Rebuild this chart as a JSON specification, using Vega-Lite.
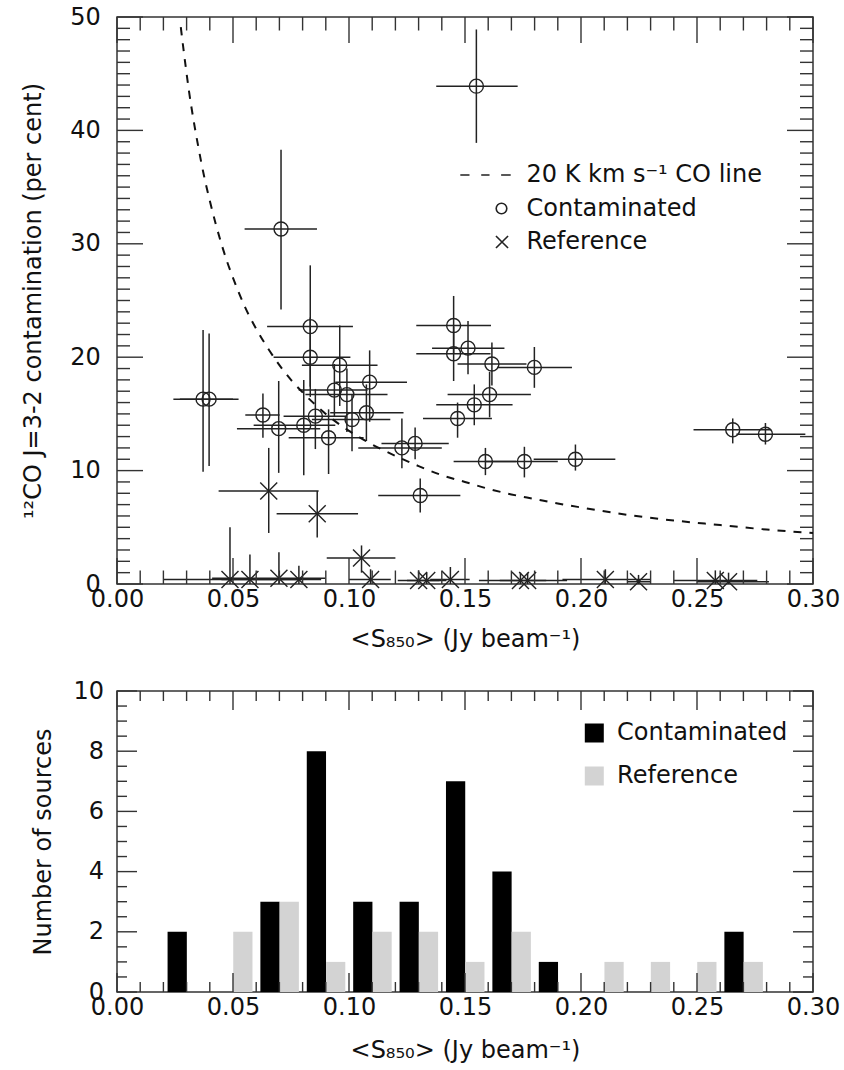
{
  "$schema": "https://vega.github.io/schema/vega-lite/v6.json",
  "padding": {"left": 21, "top": 4, "right": 5, "bottom": 5},
  "background": "white",
  "spacing": 26,
  "config": {
    "font": "DejaVu Sans",
    "view": {"stroke": "#333", "strokeWidth": 1.5},
    "axis": {"domain": false, "grid": false, "ticks": false, "labelFont": "DejaVu Sans", "labelFontSize": 24, "labelColor": "#111", "titleFont": "DejaVu Sans", "titleFontSize": 24, "titleFontWeight": "normal", "titleColor": "#111", "labelFlush": false, "labelOverlap": false, "labelBound": false},
    "legend": {"labelFont": "DejaVu Sans", "labelFontSize": 24, "labelColor": "#111", "padding": 0, "labelLimit": 500}
  },
  "datasets": {
    "contam": [
      {"x": 0.0371, "y": 16.3, "xlo": 0.0243, "xhi": 0.0500, "ylo": 9.9, "yhi": 22.4},
      {"x": 0.0397, "y": 16.3, "xlo": 0.0271, "xhi": 0.0524, "ylo": 10.4, "yhi": 22.1},
      {"x": 0.0629, "y": 14.9, "xlo": 0.0553, "xhi": 0.0701, "ylo": 12.9, "yhi": 16.8},
      {"x": 0.0697, "y": 13.7, "xlo": 0.0517, "xhi": 0.0876, "ylo": 9.8, "yhi": 17.9},
      {"x": 0.0707, "y": 31.3, "xlo": 0.0550, "xhi": 0.0862, "ylo": 24.2, "yhi": 38.3},
      {"x": 0.0833, "y": 22.7, "xlo": 0.0647, "xhi": 0.1017, "ylo": 17.4, "yhi": 28.1},
      {"x": 0.0833, "y": 20.0, "xlo": 0.0675, "xhi": 0.1006, "ylo": 16.5, "yhi": 23.5},
      {"x": 0.0960, "y": 19.3, "xlo": 0.0797, "xhi": 0.1123, "ylo": 15.7, "yhi": 22.8},
      {"x": 0.0937, "y": 17.1, "xlo": 0.0783, "xhi": 0.1080, "ylo": 14.8, "yhi": 19.4},
      {"x": 0.0991, "y": 16.7, "xlo": 0.0812, "xhi": 0.1166, "ylo": 13.4, "yhi": 19.0},
      {"x": 0.1089, "y": 17.8, "xlo": 0.0941, "xhi": 0.1250, "ylo": 14.3, "yhi": 20.6},
      {"x": 0.1075, "y": 15.1, "xlo": 0.0919, "xhi": 0.1235, "ylo": 12.6, "yhi": 17.6},
      {"x": 0.1013, "y": 14.5, "xlo": 0.0840, "xhi": 0.1178, "ylo": 11.7, "yhi": 16.7},
      {"x": 0.0855, "y": 14.8, "xlo": 0.0718, "xhi": 0.0990, "ylo": 11.9, "yhi": 17.2},
      {"x": 0.0805, "y": 14.0, "xlo": 0.0589, "xhi": 0.0941, "ylo": 9.6, "yhi": 18.0},
      {"x": 0.0912, "y": 12.9, "xlo": 0.0740, "xhi": 0.1063, "ylo": 9.7, "yhi": 15.4},
      {"x": 0.1228, "y": 12.0, "xlo": 0.1040, "xhi": 0.1400, "ylo": 10.2, "yhi": 14.6},
      {"x": 0.1285, "y": 12.4, "xlo": 0.1140, "xhi": 0.1430, "ylo": 11.0, "yhi": 13.8},
      {"x": 0.1307, "y": 7.8, "xlo": 0.1126, "xhi": 0.1480, "ylo": 6.3, "yhi": 9.3},
      {"x": 0.1451, "y": 22.8, "xlo": 0.1290, "xhi": 0.1612, "ylo": 20.3, "yhi": 25.4},
      {"x": 0.1451, "y": 20.3, "xlo": 0.1290, "xhi": 0.1610, "ylo": 17.9, "yhi": 22.7},
      {"x": 0.1513, "y": 20.8, "xlo": 0.1358, "xhi": 0.1670, "ylo": 18.5, "yhi": 23.2},
      {"x": 0.1616, "y": 19.4, "xlo": 0.1468, "xhi": 0.1765, "ylo": 17.5, "yhi": 21.3},
      {"x": 0.1799, "y": 19.1, "xlo": 0.1638, "xhi": 0.1961, "ylo": 17.3, "yhi": 20.9},
      {"x": 0.1606, "y": 16.7, "xlo": 0.1425, "xhi": 0.1784, "ylo": 14.7, "yhi": 18.7},
      {"x": 0.1540, "y": 15.8, "xlo": 0.1376, "xhi": 0.1705, "ylo": 14.0, "yhi": 17.6},
      {"x": 0.1468, "y": 14.6, "xlo": 0.1319, "xhi": 0.1616, "ylo": 12.9, "yhi": 16.0},
      {"x": 0.1588, "y": 10.8, "xlo": 0.1451, "xhi": 0.1720, "ylo": 9.6, "yhi": 12.0},
      {"x": 0.1756, "y": 10.8, "xlo": 0.1590, "xhi": 0.1900, "ylo": 9.4, "yhi": 12.1},
      {"x": 0.1976, "y": 11.0, "xlo": 0.1796, "xhi": 0.2148, "ylo": 10.0, "yhi": 12.3},
      {"x": 0.2654, "y": 13.6, "xlo": 0.2485, "xhi": 0.2820, "ylo": 12.4, "yhi": 14.6},
      {"x": 0.2795, "y": 13.2, "xlo": 0.2670, "xhi": 0.2967, "ylo": 12.3, "yhi": 14.2},
      {"x": 0.1549, "y": 43.9, "xlo": 0.1376, "xhi": 0.1727, "ylo": 38.9, "yhi": 48.9}
    ],
    "ref": [
      {"x": 0.0654, "y": 8.2, "xlo": 0.0438, "xhi": 0.0869, "ylo": 4.5, "yhi": 12.0},
      {"x": 0.0863, "y": 6.2, "xlo": 0.0688, "xhi": 0.1039, "ylo": 4.1, "yhi": 8.2},
      {"x": 0.1054, "y": 2.3, "xlo": 0.0904, "xhi": 0.1200, "ylo": 1.0, "yhi": 3.4},
      {"x": 0.0487, "y": 0.4, "xlo": 0.0200, "xhi": 0.0780, "ylo": 0.0, "yhi": 5.0},
      {"x": 0.0573, "y": 0.4, "xlo": 0.0450, "xhi": 0.0680, "ylo": 0.0, "yhi": 2.6},
      {"x": 0.0698, "y": 0.5, "xlo": 0.0410, "xhi": 0.0898, "ylo": 0.0, "yhi": 2.8},
      {"x": 0.0784, "y": 0.4, "xlo": 0.0700, "xhi": 0.0880, "ylo": 0.0, "yhi": 1.6},
      {"x": 0.1093, "y": 0.4, "xlo": 0.1000, "xhi": 0.1180, "ylo": 0.0, "yhi": 1.3},
      {"x": 0.1300, "y": 0.3, "xlo": 0.1210, "xhi": 0.1390, "ylo": 0.0, "yhi": 1.2},
      {"x": 0.1335, "y": 0.3, "xlo": 0.1250, "xhi": 0.1420, "ylo": 0.0, "yhi": 1.0},
      {"x": 0.1437, "y": 0.4, "xlo": 0.1350, "xhi": 0.1520, "ylo": 0.0, "yhi": 1.5},
      {"x": 0.1739, "y": 0.3, "xlo": 0.1560, "xhi": 0.1850, "ylo": 0.0, "yhi": 1.0},
      {"x": 0.1770, "y": 0.3, "xlo": 0.1650, "xhi": 0.1940, "ylo": 0.0, "yhi": 1.0},
      {"x": 0.2105, "y": 0.4, "xlo": 0.1920, "xhi": 0.2300, "ylo": 0.0, "yhi": 1.3},
      {"x": 0.2248, "y": 0.2, "xlo": 0.2200, "xhi": 0.2300, "ylo": 0.0, "yhi": 0.8},
      {"x": 0.2579, "y": 0.3, "xlo": 0.2400, "xhi": 0.2760, "ylo": 0.0, "yhi": 1.2},
      {"x": 0.2636, "y": 0.2, "xlo": 0.2500, "xhi": 0.2810, "ylo": 0.0, "yhi": 1.0}
    ],
    "curve": [
      {"x": 0.0275, "y": 49.1}, {"x": 0.029, "y": 46.6}, {"x": 0.031, "y": 43.5}, {"x": 0.033, "y": 40.9},
      {"x": 0.035, "y": 38.6}, {"x": 0.0375, "y": 36.0}, {"x": 0.04, "y": 33.8}, {"x": 0.0425, "y": 31.8},
      {"x": 0.045, "y": 30.0}, {"x": 0.0475, "y": 28.4}, {"x": 0.05, "y": 27.0}, {"x": 0.055, "y": 24.5},
      {"x": 0.06, "y": 22.5}, {"x": 0.065, "y": 20.8}, {"x": 0.07, "y": 19.3}, {"x": 0.075, "y": 18.0},
      {"x": 0.08, "y": 16.9}, {"x": 0.09, "y": 15.0}, {"x": 0.10, "y": 13.5}, {"x": 0.11, "y": 12.3},
      {"x": 0.12, "y": 11.3}, {"x": 0.13, "y": 10.4}, {"x": 0.14, "y": 9.6}, {"x": 0.15, "y": 9.0},
      {"x": 0.16, "y": 8.4}, {"x": 0.17, "y": 7.9}, {"x": 0.18, "y": 7.5}, {"x": 0.19, "y": 7.1},
      {"x": 0.20, "y": 6.75}, {"x": 0.22, "y": 6.1}, {"x": 0.24, "y": 5.6}, {"x": 0.26, "y": 5.2},
      {"x": 0.28, "y": 4.8}, {"x": 0.30, "y": 4.5}
    ],
    "kinds": [
      {"kind": "20 K km s⁻¹ CO line"}, {"kind": "Contaminated"}, {"kind": "Reference"}
    ],
    "xt": [
      {"v": 0.00, "major": true}, {"v": 0.01, "major": false}, {"v": 0.02, "major": false}, {"v": 0.03, "major": false}, {"v": 0.04, "major": false},
      {"v": 0.05, "major": true}, {"v": 0.06, "major": false}, {"v": 0.07, "major": false}, {"v": 0.08, "major": false}, {"v": 0.09, "major": false},
      {"v": 0.10, "major": true}, {"v": 0.11, "major": false}, {"v": 0.12, "major": false}, {"v": 0.13, "major": false}, {"v": 0.14, "major": false},
      {"v": 0.15, "major": true}, {"v": 0.16, "major": false}, {"v": 0.17, "major": false}, {"v": 0.18, "major": false}, {"v": 0.19, "major": false},
      {"v": 0.20, "major": true}, {"v": 0.21, "major": false}, {"v": 0.22, "major": false}, {"v": 0.23, "major": false}, {"v": 0.24, "major": false},
      {"v": 0.25, "major": true}, {"v": 0.26, "major": false}, {"v": 0.27, "major": false}, {"v": 0.28, "major": false}, {"v": 0.29, "major": false},
      {"v": 0.30, "major": true}
    ],
    "yt1": [
      {"v": 0, "major": true}, {"v": 1, "major": false}, {"v": 2, "major": false}, {"v": 3, "major": false}, {"v": 4, "major": false},
      {"v": 5, "major": false}, {"v": 6, "major": false}, {"v": 7, "major": false}, {"v": 8, "major": false}, {"v": 9, "major": false},
      {"v": 10, "major": true}, {"v": 11, "major": false}, {"v": 12, "major": false}, {"v": 13, "major": false}, {"v": 14, "major": false},
      {"v": 15, "major": false}, {"v": 16, "major": false}, {"v": 17, "major": false}, {"v": 18, "major": false}, {"v": 19, "major": false},
      {"v": 20, "major": true}, {"v": 21, "major": false}, {"v": 22, "major": false}, {"v": 23, "major": false}, {"v": 24, "major": false},
      {"v": 25, "major": false}, {"v": 26, "major": false}, {"v": 27, "major": false}, {"v": 28, "major": false}, {"v": 29, "major": false},
      {"v": 30, "major": true}, {"v": 31, "major": false}, {"v": 32, "major": false}, {"v": 33, "major": false}, {"v": 34, "major": false},
      {"v": 35, "major": false}, {"v": 36, "major": false}, {"v": 37, "major": false}, {"v": 38, "major": false}, {"v": 39, "major": false},
      {"v": 40, "major": true}, {"v": 41, "major": false}, {"v": 42, "major": false}, {"v": 43, "major": false}, {"v": 44, "major": false},
      {"v": 45, "major": false}, {"v": 46, "major": false}, {"v": 47, "major": false}, {"v": 48, "major": false}, {"v": 49, "major": false},
      {"v": 50, "major": true}
    ],
    "yt2": [
      {"v": 0, "major": true}, {"v": 0.5, "major": false}, {"v": 1, "major": false}, {"v": 1.5, "major": false},
      {"v": 2, "major": true}, {"v": 2.5, "major": false}, {"v": 3, "major": false}, {"v": 3.5, "major": false},
      {"v": 4, "major": true}, {"v": 4.5, "major": false}, {"v": 5, "major": false}, {"v": 5.5, "major": false},
      {"v": 6, "major": true}, {"v": 6.5, "major": false}, {"v": 7, "major": false}, {"v": 7.5, "major": false},
      {"v": 8, "major": true}, {"v": 8.5, "major": false}, {"v": 9, "major": false}, {"v": 9.5, "major": false},
      {"v": 10, "major": true}
    ],
    "hist": [
      {"group": "Contaminated", "x0": 0.0218, "x1": 0.0301, "count": 2},
      {"group": "Contaminated", "x0": 0.0618, "x1": 0.0701, "count": 3},
      {"group": "Contaminated", "x0": 0.0818, "x1": 0.0901, "count": 8},
      {"group": "Contaminated", "x0": 0.1018, "x1": 0.1101, "count": 3},
      {"group": "Contaminated", "x0": 0.1218, "x1": 0.1301, "count": 3},
      {"group": "Contaminated", "x0": 0.1418, "x1": 0.1501, "count": 7},
      {"group": "Contaminated", "x0": 0.1618, "x1": 0.1701, "count": 4},
      {"group": "Contaminated", "x0": 0.1818, "x1": 0.1901, "count": 1},
      {"group": "Contaminated", "x0": 0.2618, "x1": 0.2701, "count": 2},
      {"group": "Reference", "x0": 0.0501, "x1": 0.0584, "count": 2},
      {"group": "Reference", "x0": 0.0701, "x1": 0.0784, "count": 3},
      {"group": "Reference", "x0": 0.0901, "x1": 0.0984, "count": 1},
      {"group": "Reference", "x0": 0.1101, "x1": 0.1184, "count": 2},
      {"group": "Reference", "x0": 0.1301, "x1": 0.1384, "count": 2},
      {"group": "Reference", "x0": 0.1501, "x1": 0.1584, "count": 1},
      {"group": "Reference", "x0": 0.1701, "x1": 0.1784, "count": 2},
      {"group": "Reference", "x0": 0.2101, "x1": 0.2184, "count": 1},
      {"group": "Reference", "x0": 0.2301, "x1": 0.2384, "count": 1},
      {"group": "Reference", "x0": 0.2501, "x1": 0.2584, "count": 1},
      {"group": "Reference", "x0": 0.2701, "x1": 0.2784, "count": 1}
    ]
  },
  "vconcat": [
    {
      "width": 696,
      "height": 567,
      "layer": [
        {
          "data": {"name": "contam"},
          "mark": {"type": "rule", "color": "#222", "strokeWidth": 1.5},
          "encoding": {
            "x": {"field": "xlo", "type": "quantitative", "scale": {"domain": [0, 0.3], "nice": false, "zero": false},
              "axis": {"orient": "bottom", "values": [0, 0.05, 0.1, 0.15, 0.2, 0.25, 0.3], "format": ".2f", "labelPadding": 3, "title": "<S₈₅₀> (Jy beam⁻¹)", "titlePadding": 16}},
            "x2": {"field": "xhi"},
            "y": {"field": "y", "type": "quantitative", "scale": {"domain": [0, 50], "nice": false, "zero": false},
              "axis": {"orient": "left", "values": [0, 10, 20, 30, 40, 50], "format": "d", "labelPadding": 16.7, "title": "¹²CO J=3-2 contamination (per cent)", "titlePadding": 24}}
          }
        },
        {
          "data": {"name": "contam"},
          "mark": {"type": "rule", "color": "#222", "strokeWidth": 1.5},
          "encoding": {"x": {"field": "x", "type": "quantitative"}, "y": {"field": "ylo", "type": "quantitative"}, "y2": {"field": "yhi"}}
        },
        {
          "data": {"name": "ref"},
          "mark": {"type": "rule", "color": "#222", "strokeWidth": 1.5},
          "encoding": {"x": {"field": "xlo", "type": "quantitative"}, "x2": {"field": "xhi"}, "y": {"field": "y", "type": "quantitative"}}
        },
        {
          "data": {"name": "ref"},
          "mark": {"type": "rule", "color": "#222", "strokeWidth": 1.5},
          "encoding": {"x": {"field": "x", "type": "quantitative"}, "y": {"field": "ylo", "type": "quantitative"}, "y2": {"field": "yhi"}}
        },
        {
          "data": {"name": "curve"},
          "mark": {"type": "line", "color": "#111", "strokeWidth": 2, "strokeDash": [8, 8], "interpolate": "monotone"},
          "encoding": {"x": {"field": "x", "type": "quantitative"}, "y": {"field": "y", "type": "quantitative"}}
        },
        {
          "data": {"name": "contam"},
          "mark": {"type": "point", "shape": "circle", "filled": false, "color": "#222", "strokeWidth": 1.4, "size": 196, "opacity": 1},
          "encoding": {"x": {"field": "x", "type": "quantitative"}, "y": {"field": "y", "type": "quantitative"}}
        },
        {
          "data": {"name": "ref"},
          "mark": {"type": "point", "shape": "M-1,-1L1,1M-1,1L1,-1", "filled": false, "color": "#222", "strokeWidth": 1.4, "size": 289, "opacity": 1},
          "encoding": {"x": {"field": "x", "type": "quantitative"}, "y": {"field": "y", "type": "quantitative"}}
        },
        {
          "data": {"name": "xt"},
          "mark": {"type": "point", "shape": "M0,0L0,-1", "filled": false, "color": "#333", "strokeWidth": 1.4, "opacity": 1},
          "encoding": {"x": {"field": "v", "type": "quantitative"}, "y": {"datum": 0, "type": "quantitative"},
            "size": {"condition": {"test": "datum.major", "value": 2704}, "value": 729}}
        },
        {
          "data": {"name": "xt"},
          "mark": {"type": "point", "shape": "M0,0L0,1", "filled": false, "color": "#333", "strokeWidth": 1.4, "opacity": 1},
          "encoding": {"x": {"field": "v", "type": "quantitative"}, "y": {"datum": 50, "type": "quantitative"},
            "size": {"condition": {"test": "datum.major", "value": 2704}, "value": 729}}
        },
        {
          "data": {"name": "yt1"},
          "mark": {"type": "point", "shape": "M0,0L1,0", "filled": false, "color": "#333", "strokeWidth": 1.4, "opacity": 1},
          "encoding": {"y": {"field": "v", "type": "quantitative"}, "x": {"datum": 0, "type": "quantitative"},
            "size": {"condition": {"test": "datum.major", "value": 2704}, "value": 676}}
        },
        {
          "data": {"name": "yt1"},
          "mark": {"type": "point", "shape": "M0,0L-1,0", "filled": false, "color": "#333", "strokeWidth": 1.4, "opacity": 1},
          "encoding": {"y": {"field": "v", "type": "quantitative"}, "x": {"datum": 0.3, "type": "quantitative"},
            "size": {"condition": {"test": "datum.major", "value": 2704}, "value": 676}}
        },
        {
          "data": {"name": "kinds"},
          "transform": [{"filter": "false"}],
          "mark": {"type": "point", "filled": false, "color": "#222", "strokeWidth": 1.6, "opacity": 1},
          "encoding": {
            "shape": {"field": "kind", "type": "nominal",
              "scale": {"domain": ["20 K km s⁻¹ CO line", "Contaminated", "Reference"],
                "range": ["M-1,0H-0.635M-0.17,0H0.16M0.62,0H1", "M0.845,0C0.845,0.116,0.751,0.21,0.635,0.21C0.519,0.21,0.425,0.116,0.425,0C0.425,-0.116,0.519,-0.21,0.635,-0.21C0.751,-0.21,0.845,-0.116,0.845,0Z", "M0.415,-0.24L0.895,0.24M0.415,0.24L0.895,-0.24"]},
              "legend": {"title": null, "orient": "none", "legendX": 342.5, "legendY": 146, "clipHeight": 24, "symbolSize": 2540, "symbolStrokeWidth": 1.6, "symbolStrokeColor": "#222", "symbolFillColor": "transparent", "symbolOpacity": 1, "labelOffset": 15, "rowPadding": 9.5, "padding": 0}}
          }
        }
      ]
    },
    {
      "width": 696,
      "height": 301,
      "layer": [
        {
          "data": {"name": "hist"},
          "transform": [{"filter": "datum.group === 'Contaminated'"}],
          "mark": {"type": "bar"},
          "encoding": {
            "x": {"field": "x0", "type": "quantitative", "scale": {"domain": [0, 0.3], "nice": false, "zero": false},
              "axis": {"orient": "bottom", "values": [0, 0.05, 0.1, 0.15, 0.2, 0.25, 0.3], "format": ".2f", "labelPadding": 3, "title": "<S₈₅₀> (Jy beam⁻¹)", "titlePadding": 19}},
            "x2": {"field": "x1"},
            "y": {"field": "count", "type": "quantitative", "scale": {"domain": [0, 10], "nice": false},
              "axis": {"orient": "left", "values": [0, 2, 4, 6, 8, 10], "format": "d", "labelPadding": 13.4, "title": "Number of sources", "titlePadding": 18}},
            "y2": {"datum": 0},
            "color": {"field": "group", "type": "nominal",
              "scale": {"domain": ["Contaminated", "Reference"], "range": ["#000000", "#d3d3d3"]},
              "legend": {"title": null, "orient": "none", "legendX": 465.3, "legendY": 704, "symbolType": "square", "symbolSize": 361, "symbolStrokeWidth": 0, "labelOffset": 10.8, "rowPadding": 19, "padding": 0}}
          }
        },
        {
          "data": {"name": "hist"},
          "transform": [{"filter": "datum.group === 'Reference'"}],
          "mark": {"type": "bar"},
          "encoding": {
            "x": {"field": "x0", "type": "quantitative"},
            "x2": {"field": "x1"},
            "y": {"field": "count", "type": "quantitative"},
            "y2": {"datum": 0},
            "color": {"field": "group", "type": "nominal"}
          }
        },
        {
          "data": {"name": "xt"},
          "mark": {"type": "point", "shape": "M0,0L0,-1", "filled": false, "color": "#333", "strokeWidth": 1.4, "opacity": 1},
          "encoding": {"x": {"field": "v", "type": "quantitative"}, "y": {"datum": 0, "type": "quantitative"},
            "size": {"condition": {"test": "datum.major", "value": 1444}, "value": 400}}
        },
        {
          "data": {"name": "xt"},
          "mark": {"type": "point", "shape": "M0,0L0,1", "filled": false, "color": "#333", "strokeWidth": 1.4, "opacity": 1},
          "encoding": {"x": {"field": "v", "type": "quantitative"}, "y": {"datum": 10, "type": "quantitative"},
            "size": {"condition": {"test": "datum.major", "value": 1444}, "value": 400}}
        },
        {
          "data": {"name": "yt2"},
          "mark": {"type": "point", "shape": "M0,0L1,0", "filled": false, "color": "#333", "strokeWidth": 1.4, "opacity": 1},
          "encoding": {"y": {"field": "v", "type": "quantitative"}, "x": {"datum": 0, "type": "quantitative"},
            "size": {"condition": {"test": "datum.major", "value": 1600}, "value": 400}}
        },
        {
          "data": {"name": "yt2"},
          "mark": {"type": "point", "shape": "M0,0L-1,0", "filled": false, "color": "#333", "strokeWidth": 1.4, "opacity": 1},
          "encoding": {"y": {"field": "v", "type": "quantitative"}, "x": {"datum": 0.3, "type": "quantitative"},
            "size": {"condition": {"test": "datum.major", "value": 1600}, "value": 400}}
        }
      ]
    }
  ]
}
